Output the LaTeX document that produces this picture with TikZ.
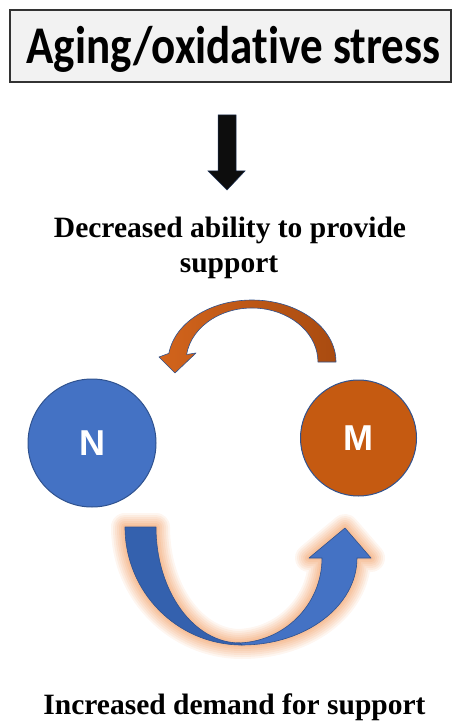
\documentclass[tikz,border=0pt]{standalone}
\usepackage{fontspec}
\setmainfont{Liberation Serif}
\newfontfamily\titlefont[Ligatures=NoCommon]{Carlito}
\newfontfamily\letterfont{Liberation Sans}
\usepackage{graphicx}
\definecolor{nblue}{HTML}{4472C4}
\definecolor{nbluedark}{HTML}{3461AE}
\definecolor{edgeblue}{HTML}{2F528F}
\definecolor{morange}{HTML}{C55A11}
\definecolor{orangeL}{HTML}{D2641C}
\definecolor{orangeD}{HTML}{A94B10}
\definecolor{glowc}{HTML}{F4B183}
\definecolor{boxgray}{HTML}{F2F2F2}
\tikzset{
  titlebox/.style={draw=black!80, line width=1.5pt, fill=boxgray, minimum width=441pt, minimum height=72pt, inner sep=0pt},
  caption/.style={anchor=base, inner sep=0pt, font=\fontsize{29.5}{35}\selectfont\bfseries},
  cell/.style={circle, draw=edgeblue, line width=1pt, inner sep=0pt, text=white, font=\letterfont\fontsize{36}{40}\selectfont\bfseries},
  glowy/.style={
    preaction={draw=glowc, line width=28pt, opacity=0.12, line join=round},
    preaction={draw=glowc, line width=24pt, opacity=0.14, line join=round},
    preaction={draw=glowc, line width=20pt, opacity=0.16, line join=round},
    preaction={draw=glowc, line width=16pt, opacity=0.18, line join=round},
    preaction={draw=glowc, line width=12pt, opacity=0.22, line join=round},
    preaction={draw=glowc, line width=8pt, opacity=0.28, line join=round},
    preaction={draw=glowc, line width=4pt, opacity=0.35, line join=round}},
  bluearm/.style={draw=edgeblue, line width=0.6pt, line join=round},
  orangearrow/.style={left color=orangeL, right color=orangeD, draw=edgeblue, line width=0.6pt, line join=round},
  downarrow/.style={fill=black!95, draw=edgeblue!60!black, line width=0.5pt, line join=miter}
}
\begin{document}
\begin{tikzpicture}[x=1pt,y=-1pt]
\useasboundingbox (0,0) rectangle (454,722);
% title
\node[titlebox] (box) at (230.5,46) {};
\node[anchor=base, inner sep=0pt] (title) at (233.5,64) {\scalebox{0.85}[1]{\titlefont\fontsize{53}{58}\selectfont\bfseries Aging/oxidative stress}};
% down arrow
\coordinate (da) at (227,115);
\path[downarrow] (218,115) -- (236,115) -- (236,171) -- (245,171) -- (227,190) -- (208,171) -- (218,171) -- cycle;
% caption 1
\node[caption] (cap1) at (230,237) {Decreased ability to provide};
\node[caption] (cap1b) at (229,272) {support};
% orange curved arrow
\path[orangearrow] (318,362) -- (336,362) arc[start angle=360, end angle=188, x radius=84, y radius=62]
  -- (159,357) -- (175,373) -- (196,353) -- (186.6,354.5)
  arc[start angle=188, end angle=360, x radius=66, y radius=54] -- cycle;
% cells
\node[cell, fill=nblue, minimum size=128pt] (N) at (92,443) {N};
\node[cell, fill=morange, minimum size=116pt] (M) at (358.5,438) {M};
% glow behind blue arrow
\path[glowy]
  (125,527) arc[start angle=180, end angle=90, x radius=117, y radius=118]
  -- (240,643) arc[start angle=90, end angle=180, x radius=84, y radius=116] -- cycle
  (242,645) arc[start angle=90, end angle=0, x radius=115, y radius=87]
  -- (371,558) -- (345,528) -- (309,558) -- (322,558)
  arc[start angle=0, end angle=90, x radius=86, y radius=85] -- cycle;
% right arm
\path[bluearm, fill=nblue] (242,645) arc[start angle=90, end angle=0, x radius=115, y radius=87]
  -- (371,558) -- (345,528) -- (309,558) -- (322,558)
  arc[start angle=0, end angle=90, x radius=86, y radius=85] -- cycle;
% left arm
\path[bluearm, fill=nbluedark] (125,527) arc[start angle=180, end angle=90, x radius=117, y radius=118]
  -- (240,643) arc[start angle=90, end angle=180, x radius=84, y radius=116] -- cycle;
% caption 2
\node[caption] (cap2) at (234.5,714) {Increased demand for support};
\end{tikzpicture}
\end{document}
